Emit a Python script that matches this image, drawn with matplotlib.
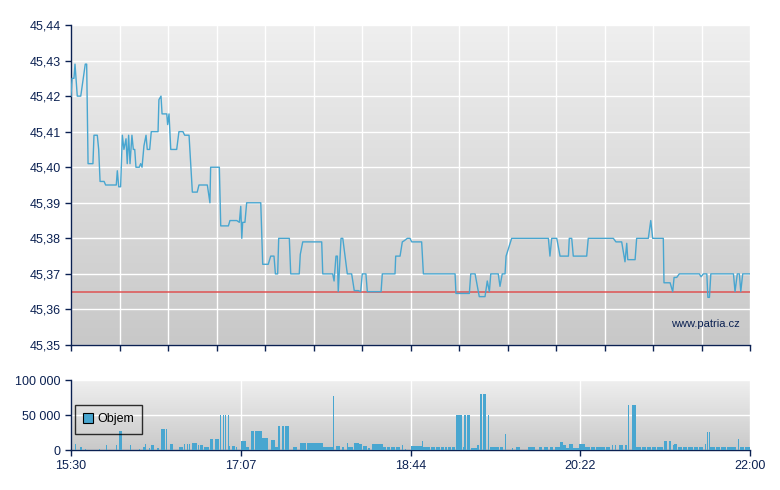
import numpy as np
import matplotlib
matplotlib.use("Agg")
import matplotlib.pyplot as plt
from matplotlib.colors import LinearSegmentedColormap
from matplotlib.ticker import FuncFormatter

plt.rcParams['font.family'] = ['Liberation Sans', 'DejaVu Sans']

# price: minutes after 15:30, value
price_t = [0, 0.6, 1.7, 2.3, 2.9, 3.6, 5.6, 8.2, 9.0, 9.8, 12.6, 13.2, 15.1, 15.9, 16.7,
           19.0, 19.9, 26.0, 26.6, 27.4, 28.5, 29.5, 30.4, 31.6, 32.3, 33.1, 33.9, 35.0,
           35.8, 36.6, 37.3, 39.2, 40.0, 40.8, 41.9, 43.1, 43.8, 45.2, 46.1, 50.0, 50.5,
           51.7, 52.3, 55.0, 55.5, 56.3, 57.3, 60.7, 62.0, 64.3, 65.3, 67.8, 69.7, 72.5,
           73.5, 78.3, 79.8, 80.2, 85.2, 86.0, 90.4, 91.3, 95.2, 96.7, 97.5, 98.1, 98.6,
           99.9, 100.9, 109.0, 110.1, 113.3, 114.7, 116.6, 117.4, 118.7, 119.3, 125.4,
           126.2, 131.1, 131.7, 133.1, 144.0, 144.6, 150.3, 151.1, 152.2, 153.0, 153.5,
           154.5, 155.1, 156.1, 158.7, 161.2, 162.7, 165.0, 166.4, 167.3, 169.4, 170.2,
           178.1, 178.8, 186.1, 186.5, 189.0, 190.3, 191.3, 193.2, 194.7, 195.7, 201.4,
           202.4, 220.6, 221.1, 228.8, 229.6, 232.1, 234.5, 237.8, 239.1, 240.3, 241.1,
           245.4, 246.4, 247.7, 249.3, 249.9, 253.1, 274.2, 275.1, 276.1, 279.0, 280.9,
           285.7, 286.2, 287.6, 288.5, 296.2, 297.1, 311.5, 313.0, 316.3, 318.2, 319.2,
           319.8, 324.0, 324.9, 331.6, 333.0, 334.1, 340.2, 340.6, 344.1, 345.6, 346.4,
           347.9, 349.4, 360.9, 361.9, 363.2, 365.2, 365.8, 366.7, 367.5, 380.5, 381.4,
           382.7, 383.9, 384.7, 385.8, 390]
price_v = [45.420, 45.425, 45.425, 45.429, 45.425, 45.420, 45.420, 45.429, 45.429, 45.401,
           45.401, 45.409, 45.409, 45.405, 45.396, 45.396, 45.395, 45.395, 45.399, 45.3945,
           45.3945, 45.409, 45.405, 45.408, 45.401, 45.409, 45.401, 45.409, 45.405, 45.405,
           45.400, 45.400, 45.401, 45.400, 45.406, 45.409, 45.405, 45.405, 45.410, 45.410,
           45.419, 45.420, 45.415, 45.415, 45.412, 45.415, 45.405, 45.405, 45.410, 45.410,
           45.409, 45.409, 45.393, 45.393, 45.395, 45.395, 45.390, 45.400, 45.400, 45.3835,
           45.3835, 45.385, 45.385, 45.3845, 45.389, 45.380, 45.3845, 45.3845, 45.390,
           45.390, 45.3727, 45.3727, 45.375, 45.375, 45.370, 45.370, 45.380, 45.380,
           45.370, 45.370, 45.3755, 45.379, 45.379, 45.370, 45.370, 45.368, 45.375, 45.375,
           45.365, 45.3745, 45.380, 45.380, 45.370, 45.370, 45.3653, 45.3653, 45.365,
           45.370, 45.370, 45.365, 45.365, 45.370, 45.370, 45.375, 45.375, 45.379, 45.3793,
           45.380, 45.380, 45.379, 45.379, 45.370, 45.370, 45.3645, 45.3645, 45.370, 45.370,
           45.3636, 45.3636, 45.368, 45.365, 45.370, 45.370, 45.3665, 45.370, 45.370,
           45.375, 45.380, 45.380, 45.375, 45.380, 45.380, 45.375, 45.375, 45.380, 45.380,
           45.375, 45.375, 45.380, 45.380, 45.379, 45.379, 45.3734, 45.3786, 45.374, 45.374,
           45.380, 45.380, 45.385, 45.380, 45.380, 45.3675, 45.3675, 45.365, 45.369, 45.369,
           45.370, 45.370, 45.3692, 45.370, 45.370, 45.3634, 45.3634, 45.370, 45.370,
           45.365, 45.370, 45.370, 45.365, 45.370, 45.370]

ref_price = 45.365

# volume: start minute, duration (min), volume
vol_t = [2.3, 5.2, 8.0, 15.9, 20.1, 25.8, 27.6, 33.9, 39.1, 41.4, 42.7, 45.0, 46.0, 49.4,
         51.7, 54.6, 56.9, 59.5, 62.0, 64.9, 66.6, 67.8, 69.5, 72.9, 74.1, 76.4, 79.8,
         82.7, 85.6, 87.1, 88.5, 90.0, 91.0, 92.3, 94.8, 97.6, 100.5, 103.2, 105.7, 109.9,
         114.9, 117.2, 119.1, 121.0, 122.9, 127.3, 131.5, 135.6, 144.7, 150.7, 152.2,
         155.5, 158.7, 159.1, 162.6, 165.3, 167.7, 170.6, 172.7, 179.2, 181.4, 183.7,
         186.6, 190.0, 191.9, 195.3, 201.8, 202.2, 206.8, 209.7, 212.3, 214.7, 216.3,
         218.8, 221.1, 224.9, 225.7, 227.6, 229.6, 233.2, 235.0, 236.8, 239.7, 240.4,
         241.9, 244.1, 246.2, 249.3, 253.1, 255.6, 262.7, 268.8, 271.7, 275.1, 278.0,
         280.9, 282.8, 284.3, 286.0, 288.5, 292.0, 295.2, 298.5, 301.6, 304.7, 307.3,
         310.9, 312.5, 314.9, 318.2, 320.1, 322.1, 324.5, 327.9, 331.0, 333.7, 336.6,
         340.6, 343.3, 345.6, 346.4, 348.5, 351.4, 354.4, 357.9, 360.9, 364.2, 365.5,
         366.6, 367.3, 370.3, 373.2, 376.6, 380.0, 383.3, 384.3, 387.1]
vol_dur = [0.5, 1.0, 0.5, 0.5, 0.5, 0.5, 1.5, 0.5, 0.5, 1.7, 0.5, 0.5, 1.6, 1.1,
           2.3, 0.5, 1.8, 0.5, 2.3, 0.5, 0.5, 0.5, 2.9, 0.5, 1.6, 2.6, 1.7,
           2.3, 0.6, 0.6, 0.6, 0.6, 0.5, 1.9, 0.8, 2.9, 1.7, 1.9, 3.8, 3.4,
           2.3, 2.1, 1.0, 1.3, 2.5, 2.3, 3.4, 9.0, 5.7, 0.4, 2.3,
           1.3, 0.5, 2.7, 2.7, 1.7, 2.1, 1.1, 6.7, 1.7, 1.7, 2.3,
           2.3, 0.9, 0.5, 6.1, 0.5, 4.0, 2.3, 2.1, 1.7, 1.1, 2.0,
           1.7, 3.3, 0.6, 1.0, 1.5, 3.4, 1.3, 1.0, 1.5, 0.4, 1.3,
           2.0, 1.7, 1.9, 0.4, 0.7, 2.3, 3.8, 1.7, 2.3, 1.7, 2.9,
           1.9, 1.4, 1.7, 2.1, 3.3, 3.3, 2.9, 2.5, 2.6, 2.0, 2.3,
           0.5, 0.6, 2.3, 1.3, 0.5, 2.5, 2.9, 2.6, 2.1, 2.3, 3.4,
           1.9, 1.1, 0.5, 1.5, 2.5, 2.3, 2.9, 2.3, 2.3, 0.5, 0.5,
           0.5, 2.6, 2.3, 2.9, 3.4, 1.9, 0.5, 2.3, 2.9]
vol_v = [8500, 3800, 1500, 1500, 7000, 7000, 27000, 7000, 2000, 5000, 8600, 3000, 7000, 3000,
         30000, 30000, 8600, 8600, 4000, 8600, 8600, 8600, 10500, 7000, 7000, 4000, 15700,
         15700, 50000, 50000, 50000, 50000, 6000, 6000, 4000, 13000, 4000, 27000, 27000, 17000,
         14000, 4000, 34000, 34000, 34000, 4000, 10500, 10500, 4000, 77000, 6000,
         5000, 10000, 4000, 10000, 8000, 6000, 3000, 8600, 4000, 4000, 4000,
         4000, 7000, 2000, 6000, 13000, 4000, 4000, 4000, 4000, 4000, 4000,
         4000, 50000, 4000, 50000, 50000, 3500, 7000, 80000, 80000, 50000, 4000,
         4000, 4000, 4000, 23000, 2500, 4000, 4000, 4000, 4000, 4000, 4000,
         12000, 7000, 3000, 8600, 3500, 8600, 4000, 4000, 4000, 4000, 4000,
         7000, 7000, 7000, 7000, 64000, 64000, 4000, 4000, 4000, 4000, 4000,
         13000, 13000, 7000, 9000, 4000, 4000, 4000, 4000, 4000, 9000, 26000,
         26000, 4000, 4000, 4000, 4000, 4000, 15700, 4000, 4000]

time_ticks = [0, 97.5, 195, 292.5, 390]
time_labels = ["15:30", "17:07", "18:44", "20:22", "22:00"]

navy = "#0b2152"
blue = "#48a6d0"


def gradient_bg(ax, x0, x1, y0, y1, top, bottom):
    cmap = LinearSegmentedColormap.from_list("bg", [top, bottom])
    ax.imshow(np.linspace(0, 1, 256).reshape(-1, 1), cmap=cmap, aspect="auto",
              extent=[x0, x1, y0, y1], zorder=-1)


def style_axes(ax):
    for s in ["top", "right"]:
        ax.spines[s].set_visible(False)
    for s in ["left", "bottom"]:
        ax.spines[s].set_color(navy)
        ax.spines[s].set_linewidth(1.0)
    ax.tick_params(colors=navy, labelcolor=navy, labelsize=9, length=4, width=1)
    ax.set_axisbelow(True)
    ax.grid(True, color="white", linewidth=1.0)


fig = plt.figure(figsize=(7.8, 4.9), dpi=100)

# price panel
ax = fig.add_axes([71 / 780, 1 - 345 / 490, 679 / 780, 320 / 490])
gradient_bg(ax, 0, 390, 45.35, 45.44, "#efefef", "#c8c8c8")
ax.plot(price_t, price_v, color=blue, lw=1.0, zorder=3)
ax.axhline(ref_price, color="#e04848", lw=1.2, alpha=0.85, zorder=2)
ax.set_xlim(0, 390)
ax.set_ylim(45.35, 45.44)
ax.set_xticks(np.linspace(0, 390, 15))
ax.set_xticklabels([])
ax.set_yticks(np.arange(45.35, 45.445, 0.01))
ax.yaxis.set_major_formatter(FuncFormatter(lambda v, p: f"{v:.2f}".replace(".", ",")))
style_axes(ax)
ax.text(0.985, 0.065, "www.patria.cz", transform=ax.transAxes, ha="right", va="center",
        color=navy, fontsize=8)

# volume panel
axv = fig.add_axes([71 / 780, 1 - 450 / 490, 679 / 780, 70 / 490])
gradient_bg(axv, 0, 390, 0, 100000, "#efefef", "#c9c9c9")
axv.bar(vol_t, vol_v, width=vol_dur, align="edge", color=blue, linewidth=0,
        zorder=3, label="Objem")
axv.set_xlim(0, 390)
axv.set_ylim(0, 100000)
axv.set_yticks([0, 50000, 100000])
axv.yaxis.set_major_formatter(FuncFormatter(lambda v, p: f"{int(v):,}".replace(",", " ")))
axv.set_xticks(time_ticks)
axv.set_xticklabels(time_labels)
style_axes(axv)
leg = axv.legend(loc="upper left", bbox_to_anchor=(0.006, 0.64), fontsize=9,
                 frameon=True, fancybox=False, handlelength=0.8, handleheight=0.8,
                 borderpad=0.65, handletextpad=0.3, borderaxespad=0)
leg.get_frame().set_facecolor("none")
leg.get_frame().set_edgecolor("black")
leg.get_frame().set_linewidth(1.0)
for h in leg.legend_handles:
    h.set_edgecolor("black")
    h.set_linewidth(0.8)

fig.savefig("out.png", dpi=100)
